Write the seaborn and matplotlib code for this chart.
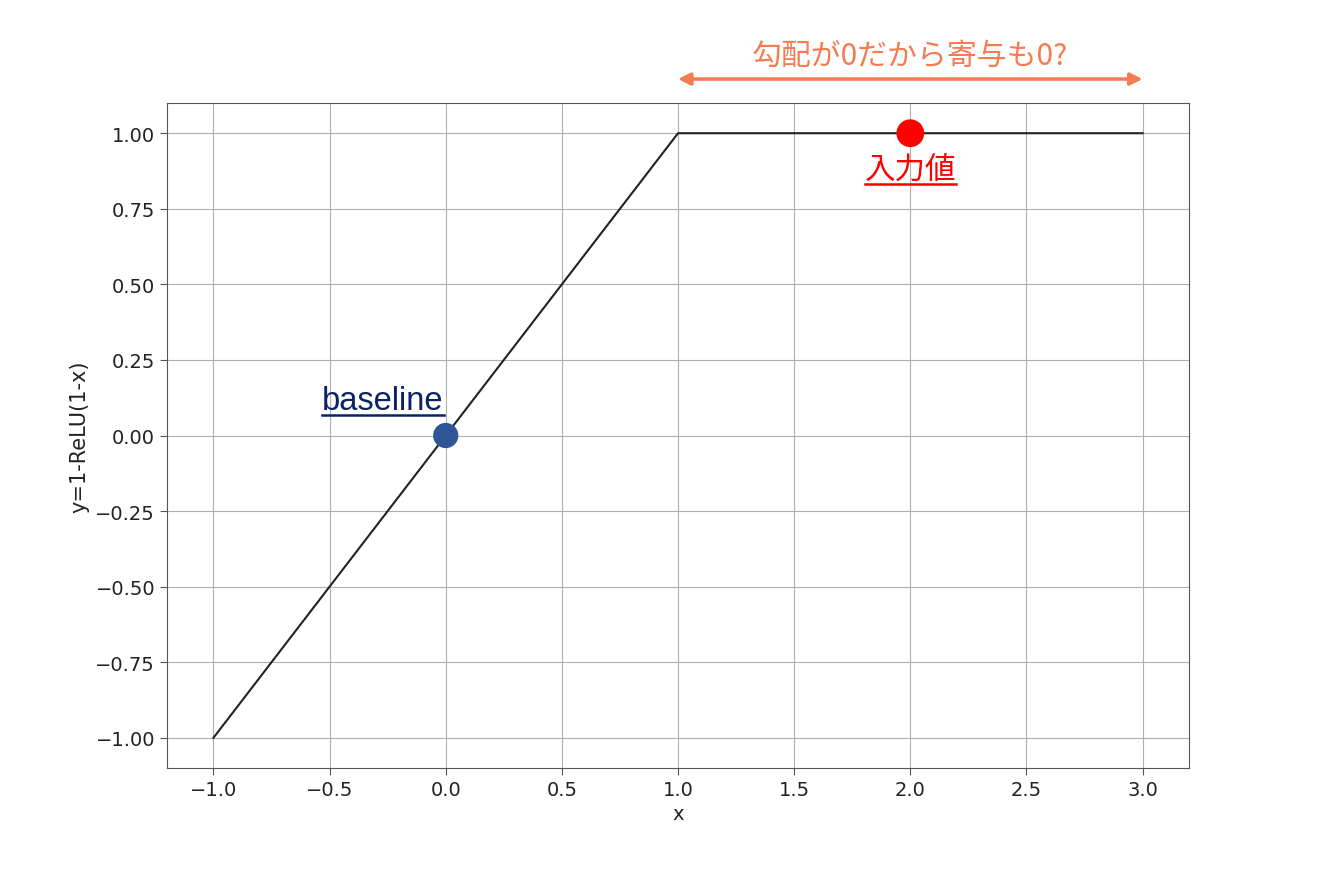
import numpy as np
import pandas as pd
import matplotlib
matplotlib.use("Agg")
import matplotlib.pyplot as plt
import seaborn as sns
from matplotlib.lines import Line2D

# data: y = 1 - ReLU(1 - x)
x_vals = [-1.0, 1.0, 3.0]
y_vals = [-1.0, 1.0, 1.0]
baseline_pt = (0.0, 0.0)
input_pt = (2.0, 1.0)
arrow_span = (1.0, 3.0)

x_ticks = [-1.0, -0.5, 0.0, 0.5, 1.0, 1.5, 2.0, 2.5, 3.0]
y_ticks = [-1.0, -0.75, -0.5, -0.25, 0.0, 0.25, 0.5, 0.75, 1.0]

plt.rcParams['font.family'] = ['DejaVu Sans', 'Noto Sans CJK JP']
plt.rcParams['axes.unicode_minus'] = True

df = pd.DataFrame({'x': x_vals, 'y': y_vals})

fig = plt.figure(figsize=(13.2, 8.79), dpi=100)
ax = fig.add_axes([0.1265, 0.1251, 0.7743, 0.7566])

sns.lineplot(data=df, x='x', y='y', ax=ax, color='#222222', linewidth=1.5, zorder=3)
sns.scatterplot(x=[baseline_pt[0]], y=[baseline_pt[1]], ax=ax, color='#2f5597',
                s=330, edgecolor='none', zorder=4)
sns.scatterplot(x=[input_pt[0]], y=[input_pt[1]], ax=ax, color='#ff0000',
                s=400, edgecolor='none', zorder=4)

ax.set_xlim(-1.2, 3.2)
ax.set_ylim(-1.1, 1.1)
ax.set_xticks(x_ticks)
ax.set_yticks(y_ticks)
ax.set_xticklabels([f"{v:.1f}".replace('-', '\u2212') for v in x_ticks])
ax.set_yticklabels([f"{v:.2f}".replace('-', '\u2212') for v in y_ticks])
ax.tick_params(labelsize=14, colors='#555555', labelcolor='#222222', length=5)
ax.grid(True, color='#b0b0b0', linewidth=0.8)
for sp in ax.spines.values():
    sp.set_color('#555555')
ax.set_xlabel('x', fontsize=14, color='#222222')
ax.set_ylabel('y=1-ReLU(1-x)', fontsize=15, color='#222222')

# annotations
t_base = ax.text(baseline_pt[0] - 0.27, baseline_pt[1] + 0.115, 'baseline',
                 fontsize=23.5, color='#0b2265', ha='center', va='center',
                 family=['Liberation Sans', 'DejaVu Sans'])
t_inp = ax.text(input_pt[0], input_pt[1] - 0.12, '入力値', fontsize=22, color='#ff0000',
                ha='center', va='center', family=['Noto Sans CJK JP', 'DejaVu Sans'])

ax.annotate('', xy=(arrow_span[0], 1.036), xytext=(arrow_span[1], 1.036),
            xycoords=('data', 'axes fraction'), textcoords=('data', 'axes fraction'),
            arrowprops=dict(arrowstyle='<|-|>', color='#f47c50', lw=2.5,
                            mutation_scale=18, shrinkA=0, shrinkB=0),
            annotation_clip=False)
ax.text(np.mean(arrow_span), 1.071, '勾配が0だから寄与も0?', transform=ax.get_xaxis_transform(),
        fontsize=21.5, color='#f47c50', ha='center', va='center',
        family=['Noto Sans CJK JP', 'DejaVu Sans'])

# underline the two labels
fig.canvas.draw()
for t, c in [(t_base, '#0b2265'), (t_inp, '#ff0000')]:
    bb = t.get_window_extent()
    y_line = bb.y0 + 1
    fig.add_artist(Line2D([bb.x0 / fig.bbox.width, bb.x1 / fig.bbox.width],
                          [y_line / fig.bbox.height, y_line / fig.bbox.height],
                          color=c, linewidth=1.8))

plt.savefig('out.png', dpi=100)
plt.close()
